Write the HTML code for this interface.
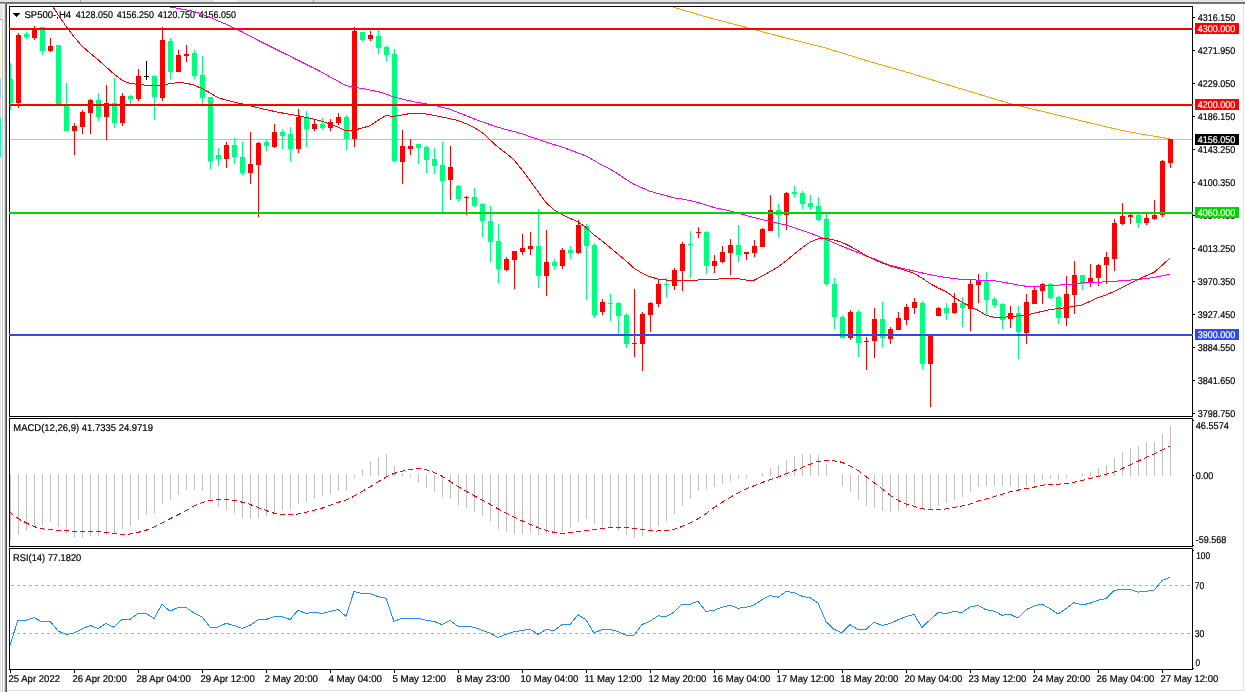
<!DOCTYPE html>
<html><head><meta charset="utf-8"><title>SP500-,H4</title>
<style>html,body{margin:0;padding:0;background:#fff;overflow:hidden}svg{display:block}</style>
</head><body>
<svg width="1245" height="692" viewBox="0 0 1245 692" shape-rendering="crispEdges"><rect x="0" y="0" width="1245" height="692" fill="#ffffff"/>
<rect x="0" y="0" width="1245" height="2" fill="#e3e3e3"/>
<rect x="0" y="2" width="1245" height="1" fill="#6f6f6f"/>
<rect x="0" y="3" width="1245" height="1" fill="#a9a9a9"/>
<rect x="80" y="0" width="1" height="2" fill="#a0a0a0"/>
<rect x="313" y="0" width="1" height="2" fill="#a0a0a0"/>
<rect x="214" y="0" width="23" height="2" fill="#f4f4f4"/>
<rect x="0" y="4" width="5" height="688" fill="#e6e6e6"/>
<rect x="0" y="19" width="2" height="1" fill="#a0a0a0"/>
<rect x="0" y="20" width="1" height="20" fill="#fbfbf2"/>
<rect x="0" y="40" width="1" height="38" fill="#f8f8cf"/>
<rect x="0" y="78" width="1" height="20" fill="#9ccaf5"/>
<rect x="0" y="98" width="1" height="20" fill="#dcdcdc"/>
<rect x="0" y="118" width="1" height="39" fill="#1ff0b8"/>
<rect x="1" y="20" width="1" height="672" fill="#fafafa"/>
<rect x="2" y="20" width="1" height="672" fill="#c8c8c8"/>
<rect x="3" y="4" width="1" height="688" fill="#fbfbfb"/>
<rect x="4" y="4" width="1" height="688" fill="#dadada"/>
<rect x="5" y="2" width="1" height="690" fill="#8a8a8a"/>
<rect x="6" y="3" width="1" height="689" fill="#4a4a4a"/>
<rect x="6" y="3" width="1239" height="1" fill="#7a7a7a"/>
<rect x="1243" y="4" width="1" height="687" fill="#e2e2e2"/>
<rect x="7" y="690" width="1237" height="1" fill="#e2e2e2"/>
<rect x="9.5" y="6.5" width="1183" height="410" fill="none" stroke="#000" stroke-width="1"/>
<rect x="9.5" y="418.5" width="1183" height="128" fill="none" stroke="#000" stroke-width="1"/>
<rect x="9.5" y="548.5" width="1183" height="121" fill="none" stroke="#000" stroke-width="1"/>
<g font-family="Liberation Sans, Arial, sans-serif" text-rendering="geometricPrecision">
<path d="M13,13 h7 l-3.5,4 z" fill="#000"/>
<text x="24.4" y="17.6" font-size="9.8" fill="#000" stroke="#000" stroke-width="0.2" textLength="46.8" lengthAdjust="spacingAndGlyphs">SP500-,H4</text>
<text x="75.7" y="17.6" font-size="9.8" fill="#000" stroke="#000" stroke-width="0.2" textLength="37.2" lengthAdjust="spacingAndGlyphs">4128.050</text>
<text x="116.7" y="17.6" font-size="9.8" fill="#000" stroke="#000" stroke-width="0.2" textLength="37.2" lengthAdjust="spacingAndGlyphs">4156.250</text>
<text x="157.7" y="17.6" font-size="9.8" fill="#000" stroke="#000" stroke-width="0.2" textLength="37.2" lengthAdjust="spacingAndGlyphs">4120.750</text>
<text x="198.7" y="17.6" font-size="9.8" fill="#000" stroke="#000" stroke-width="0.2" textLength="37.2" lengthAdjust="spacingAndGlyphs">4156.050</text>
</g>
<clipPath id="cm"><rect x="10" y="7" width="1182" height="409"/></clipPath>
<g clip-path="url(#cm)">
<rect x="10" y="139" width="1182" height="1" fill="#c0c0c0"/>
<rect x="10" y="63" width="1" height="47" fill="#00ff7f"/>
<rect x="8" y="79" width="5" height="24" fill="#00ff7f"/>
<rect x="18" y="33" width="1" height="75" fill="#ff0000"/>
<rect x="16" y="35" width="5" height="68" fill="#ff0000"/>
<rect x="26" y="32" width="1" height="7" fill="#00ff7f"/>
<rect x="24" y="34" width="5" height="3" fill="#00ff7f"/>
<rect x="34" y="26" width="1" height="14" fill="#ff0000"/>
<rect x="32" y="29" width="5" height="9" fill="#ff0000"/>
<rect x="42" y="27" width="1" height="28" fill="#00ff7f"/>
<rect x="40" y="27" width="5" height="24" fill="#00ff7f"/>
<rect x="50" y="38" width="1" height="14" fill="#ff0000"/>
<rect x="48" y="46" width="5" height="5" fill="#ff0000"/>
<rect x="58" y="45" width="1" height="60" fill="#00ff7f"/>
<rect x="56" y="45" width="5" height="59" fill="#00ff7f"/>
<rect x="66" y="83" width="1" height="48" fill="#00ff7f"/>
<rect x="64" y="106" width="5" height="25" fill="#00ff7f"/>
<rect x="74" y="123" width="1" height="32" fill="#ff0000"/>
<rect x="72" y="126" width="5" height="5" fill="#ff0000"/>
<rect x="82" y="110" width="1" height="24" fill="#ff0000"/>
<rect x="80" y="112" width="5" height="15" fill="#ff0000"/>
<rect x="90" y="99" width="1" height="35" fill="#ff0000"/>
<rect x="88" y="100" width="5" height="13" fill="#ff0000"/>
<rect x="98" y="93" width="1" height="28" fill="#00ff7f"/>
<rect x="96" y="100" width="5" height="17" fill="#00ff7f"/>
<rect x="106" y="85" width="1" height="55" fill="#ff0000"/>
<rect x="104" y="103" width="5" height="14" fill="#ff0000"/>
<rect x="114" y="78" width="1" height="50" fill="#00ff7f"/>
<rect x="112" y="103" width="5" height="20" fill="#00ff7f"/>
<rect x="122" y="93" width="1" height="33" fill="#ff0000"/>
<rect x="120" y="96" width="5" height="27" fill="#ff0000"/>
<rect x="130" y="95" width="1" height="10" fill="#00ff7f"/>
<rect x="128" y="96" width="5" height="3" fill="#00ff7f"/>
<rect x="138" y="69" width="1" height="32" fill="#ff0000"/>
<rect x="136" y="76" width="5" height="23" fill="#ff0000"/>
<rect x="146" y="61" width="1" height="19" fill="#000"/>
<rect x="144" y="76" width="5" height="1" fill="#000"/>
<rect x="154" y="75" width="1" height="45" fill="#00ff7f"/>
<rect x="152" y="76" width="5" height="21" fill="#00ff7f"/>
<rect x="162" y="27" width="1" height="74" fill="#ff0000"/>
<rect x="160" y="40" width="5" height="58" fill="#ff0000"/>
<rect x="170" y="38" width="1" height="41" fill="#00ff7f"/>
<rect x="168" y="41" width="5" height="31" fill="#00ff7f"/>
<rect x="178" y="50" width="1" height="22" fill="#ff0000"/>
<rect x="176" y="55" width="5" height="17" fill="#ff0000"/>
<rect x="186" y="45" width="1" height="17" fill="#ff0000"/>
<rect x="184" y="54" width="5" height="2" fill="#ff0000"/>
<rect x="194" y="50" width="1" height="29" fill="#00ff7f"/>
<rect x="192" y="53" width="5" height="23" fill="#00ff7f"/>
<rect x="202" y="56" width="1" height="49" fill="#00ff7f"/>
<rect x="200" y="75" width="5" height="23" fill="#00ff7f"/>
<rect x="210" y="97" width="1" height="72" fill="#00ff7f"/>
<rect x="208" y="97" width="5" height="64" fill="#00ff7f"/>
<rect x="218" y="148" width="1" height="18" fill="#00ff7f"/>
<rect x="216" y="155" width="5" height="4" fill="#00ff7f"/>
<rect x="226" y="142" width="1" height="26" fill="#ff0000"/>
<rect x="224" y="145" width="5" height="14" fill="#ff0000"/>
<rect x="234" y="138" width="1" height="26" fill="#00ff7f"/>
<rect x="232" y="145" width="5" height="12" fill="#00ff7f"/>
<rect x="242" y="142" width="1" height="33" fill="#00ff7f"/>
<rect x="240" y="157" width="5" height="16" fill="#00ff7f"/>
<rect x="250" y="132" width="1" height="52" fill="#ff0000"/>
<rect x="248" y="164" width="5" height="9" fill="#ff0000"/>
<rect x="258" y="142" width="1" height="75" fill="#ff0000"/>
<rect x="256" y="143" width="5" height="22" fill="#ff0000"/>
<rect x="266" y="139" width="1" height="12" fill="#00ff7f"/>
<rect x="264" y="142" width="5" height="4" fill="#00ff7f"/>
<rect x="274" y="124" width="1" height="24" fill="#ff0000"/>
<rect x="272" y="132" width="5" height="15" fill="#ff0000"/>
<rect x="282" y="129" width="1" height="20" fill="#00ff7f"/>
<rect x="280" y="132" width="5" height="4" fill="#00ff7f"/>
<rect x="290" y="127" width="1" height="34" fill="#00ff7f"/>
<rect x="288" y="134" width="5" height="15" fill="#00ff7f"/>
<rect x="298" y="109" width="1" height="44" fill="#ff0000"/>
<rect x="296" y="117" width="5" height="32" fill="#ff0000"/>
<rect x="306" y="111" width="1" height="36" fill="#00ff7f"/>
<rect x="304" y="118" width="5" height="11" fill="#00ff7f"/>
<rect x="314" y="119" width="1" height="12" fill="#ff0000"/>
<rect x="312" y="124" width="5" height="5" fill="#ff0000"/>
<rect x="322" y="118" width="1" height="12" fill="#00ff7f"/>
<rect x="320" y="124" width="5" height="4" fill="#00ff7f"/>
<rect x="330" y="119" width="1" height="12" fill="#ff0000"/>
<rect x="328" y="122" width="5" height="6" fill="#ff0000"/>
<rect x="338" y="113" width="1" height="12" fill="#ff0000"/>
<rect x="336" y="117" width="5" height="6" fill="#ff0000"/>
<rect x="346" y="115" width="1" height="35" fill="#00ff7f"/>
<rect x="344" y="117" width="5" height="22" fill="#00ff7f"/>
<rect x="354" y="27" width="1" height="120" fill="#ff0000"/>
<rect x="352" y="31" width="5" height="108" fill="#ff0000"/>
<rect x="362" y="32" width="1" height="10" fill="#00ff7f"/>
<rect x="360" y="32" width="5" height="8" fill="#00ff7f"/>
<rect x="370" y="31" width="1" height="10" fill="#ff0000"/>
<rect x="368" y="35" width="5" height="4" fill="#ff0000"/>
<rect x="378" y="30" width="1" height="24" fill="#00ff7f"/>
<rect x="376" y="36" width="5" height="12" fill="#00ff7f"/>
<rect x="386" y="46" width="1" height="15" fill="#00ff7f"/>
<rect x="384" y="47" width="5" height="8" fill="#00ff7f"/>
<rect x="394" y="49" width="1" height="113" fill="#00ff7f"/>
<rect x="392" y="54" width="5" height="107" fill="#00ff7f"/>
<rect x="402" y="130" width="1" height="54" fill="#ff0000"/>
<rect x="400" y="146" width="5" height="16" fill="#ff0000"/>
<rect x="410" y="139" width="1" height="16" fill="#ff0000"/>
<rect x="408" y="146" width="5" height="3" fill="#ff0000"/>
<rect x="418" y="144" width="1" height="20" fill="#00ff7f"/>
<rect x="416" y="144" width="5" height="4" fill="#00ff7f"/>
<rect x="426" y="146" width="1" height="27" fill="#00ff7f"/>
<rect x="424" y="147" width="5" height="13" fill="#00ff7f"/>
<rect x="434" y="148" width="1" height="26" fill="#00ff7f"/>
<rect x="432" y="159" width="5" height="7" fill="#00ff7f"/>
<rect x="442" y="142" width="1" height="71" fill="#00ff7f"/>
<rect x="440" y="165" width="5" height="16" fill="#00ff7f"/>
<rect x="450" y="146" width="1" height="54" fill="#ff0000"/>
<rect x="448" y="167" width="5" height="13" fill="#ff0000"/>
<rect x="458" y="185" width="1" height="17" fill="#00ff7f"/>
<rect x="456" y="186" width="5" height="13" fill="#00ff7f"/>
<rect x="466" y="196" width="1" height="19" fill="#ff0000"/>
<rect x="464" y="197" width="5" height="1" fill="#ff0000"/>
<rect x="474" y="188" width="1" height="19" fill="#00ff7f"/>
<rect x="472" y="197" width="5" height="9" fill="#00ff7f"/>
<rect x="482" y="203" width="1" height="34" fill="#00ff7f"/>
<rect x="480" y="204" width="5" height="17" fill="#00ff7f"/>
<rect x="490" y="206" width="1" height="56" fill="#00ff7f"/>
<rect x="488" y="221" width="5" height="21" fill="#00ff7f"/>
<rect x="498" y="224" width="1" height="59" fill="#00ff7f"/>
<rect x="496" y="241" width="5" height="28" fill="#00ff7f"/>
<rect x="506" y="257" width="1" height="14" fill="#ff0000"/>
<rect x="504" y="259" width="5" height="11" fill="#ff0000"/>
<rect x="514" y="251" width="1" height="38" fill="#ff0000"/>
<rect x="512" y="251" width="5" height="9" fill="#ff0000"/>
<rect x="522" y="234" width="1" height="21" fill="#ff0000"/>
<rect x="520" y="248" width="5" height="4" fill="#ff0000"/>
<rect x="530" y="232" width="1" height="23" fill="#ff0000"/>
<rect x="528" y="246" width="5" height="3" fill="#ff0000"/>
<rect x="538" y="209" width="1" height="79" fill="#00ff7f"/>
<rect x="536" y="246" width="5" height="30" fill="#00ff7f"/>
<rect x="546" y="230" width="1" height="66" fill="#ff0000"/>
<rect x="544" y="262" width="5" height="14" fill="#ff0000"/>
<rect x="554" y="259" width="1" height="11" fill="#00ff7f"/>
<rect x="552" y="262" width="5" height="4" fill="#00ff7f"/>
<rect x="562" y="248" width="1" height="21" fill="#ff0000"/>
<rect x="560" y="250" width="5" height="16" fill="#ff0000"/>
<rect x="570" y="246" width="1" height="13" fill="#00ff7f"/>
<rect x="568" y="250" width="5" height="3" fill="#00ff7f"/>
<rect x="578" y="220" width="1" height="34" fill="#ff0000"/>
<rect x="576" y="225" width="5" height="28" fill="#ff0000"/>
<rect x="586" y="224" width="1" height="76" fill="#00ff7f"/>
<rect x="584" y="226" width="5" height="20" fill="#00ff7f"/>
<rect x="594" y="243" width="1" height="75" fill="#00ff7f"/>
<rect x="592" y="245" width="5" height="70" fill="#00ff7f"/>
<rect x="602" y="299" width="1" height="16" fill="#ff0000"/>
<rect x="600" y="302" width="5" height="10" fill="#ff0000"/>
<rect x="610" y="294" width="1" height="27" fill="#00ff7f"/>
<rect x="608" y="303" width="5" height="1" fill="#00ff7f"/>
<rect x="618" y="302" width="1" height="33" fill="#00ff7f"/>
<rect x="616" y="303" width="5" height="13" fill="#00ff7f"/>
<rect x="626" y="313" width="1" height="35" fill="#00ff7f"/>
<rect x="624" y="315" width="5" height="29" fill="#00ff7f"/>
<rect x="634" y="289" width="1" height="68" fill="#ff0000"/>
<rect x="632" y="343" width="5" height="1" fill="#ff0000"/>
<rect x="642" y="312" width="1" height="59" fill="#ff0000"/>
<rect x="640" y="314" width="5" height="30" fill="#ff0000"/>
<rect x="650" y="302" width="1" height="30" fill="#ff0000"/>
<rect x="648" y="303" width="5" height="12" fill="#ff0000"/>
<rect x="658" y="280" width="1" height="27" fill="#ff0000"/>
<rect x="656" y="284" width="5" height="20" fill="#ff0000"/>
<rect x="666" y="278" width="1" height="19" fill="#00ff7f"/>
<rect x="664" y="284" width="5" height="1" fill="#00ff7f"/>
<rect x="674" y="268" width="1" height="22" fill="#ff0000"/>
<rect x="672" y="270" width="5" height="16" fill="#ff0000"/>
<rect x="682" y="242" width="1" height="49" fill="#ff0000"/>
<rect x="680" y="244" width="5" height="27" fill="#ff0000"/>
<rect x="690" y="231" width="1" height="47" fill="#00ff7f"/>
<rect x="688" y="244" width="5" height="1" fill="#00ff7f"/>
<rect x="698" y="227" width="1" height="11" fill="#ff0000"/>
<rect x="696" y="232" width="5" height="1" fill="#ff0000"/>
<rect x="706" y="231" width="1" height="43" fill="#00ff7f"/>
<rect x="704" y="232" width="5" height="34" fill="#00ff7f"/>
<rect x="714" y="255" width="1" height="18" fill="#ff0000"/>
<rect x="712" y="261" width="5" height="5" fill="#ff0000"/>
<rect x="722" y="246" width="1" height="17" fill="#ff0000"/>
<rect x="720" y="252" width="5" height="10" fill="#ff0000"/>
<rect x="730" y="239" width="1" height="36" fill="#ff0000"/>
<rect x="728" y="245" width="5" height="8" fill="#ff0000"/>
<rect x="738" y="225" width="1" height="37" fill="#00ff7f"/>
<rect x="736" y="245" width="5" height="10" fill="#00ff7f"/>
<rect x="746" y="252" width="1" height="8" fill="#ff0000"/>
<rect x="744" y="252" width="5" height="2" fill="#ff0000"/>
<rect x="754" y="240" width="1" height="17" fill="#ff0000"/>
<rect x="752" y="246" width="5" height="7" fill="#ff0000"/>
<rect x="762" y="228" width="1" height="19" fill="#ff0000"/>
<rect x="760" y="229" width="5" height="18" fill="#ff0000"/>
<rect x="770" y="195" width="1" height="36" fill="#ff0000"/>
<rect x="768" y="210" width="5" height="21" fill="#ff0000"/>
<rect x="778" y="204" width="1" height="33" fill="#00ff7f"/>
<rect x="776" y="210" width="5" height="5" fill="#00ff7f"/>
<rect x="786" y="192" width="1" height="38" fill="#ff0000"/>
<rect x="784" y="193" width="5" height="22" fill="#ff0000"/>
<rect x="794" y="186" width="1" height="11" fill="#00ff7f"/>
<rect x="792" y="192" width="5" height="2" fill="#00ff7f"/>
<rect x="802" y="191" width="1" height="18" fill="#00ff7f"/>
<rect x="800" y="193" width="5" height="11" fill="#00ff7f"/>
<rect x="810" y="195" width="1" height="15" fill="#00ff7f"/>
<rect x="808" y="203" width="5" height="4" fill="#00ff7f"/>
<rect x="818" y="197" width="1" height="24" fill="#00ff7f"/>
<rect x="816" y="206" width="5" height="14" fill="#00ff7f"/>
<rect x="826" y="214" width="1" height="72" fill="#00ff7f"/>
<rect x="824" y="219" width="5" height="65" fill="#00ff7f"/>
<rect x="834" y="278" width="1" height="51" fill="#00ff7f"/>
<rect x="832" y="284" width="5" height="33" fill="#00ff7f"/>
<rect x="842" y="315" width="1" height="23" fill="#00ff7f"/>
<rect x="840" y="317" width="5" height="21" fill="#00ff7f"/>
<rect x="850" y="310" width="1" height="30" fill="#ff0000"/>
<rect x="848" y="312" width="5" height="26" fill="#ff0000"/>
<rect x="858" y="310" width="1" height="47" fill="#00ff7f"/>
<rect x="856" y="312" width="5" height="31" fill="#00ff7f"/>
<rect x="866" y="337" width="1" height="33" fill="#ff0000"/>
<rect x="864" y="341" width="5" height="1" fill="#ff0000"/>
<rect x="874" y="308" width="1" height="50" fill="#ff0000"/>
<rect x="872" y="319" width="5" height="22" fill="#ff0000"/>
<rect x="882" y="302" width="1" height="45" fill="#00ff7f"/>
<rect x="880" y="319" width="5" height="19" fill="#00ff7f"/>
<rect x="890" y="327" width="1" height="17" fill="#ff0000"/>
<rect x="888" y="329" width="5" height="10" fill="#ff0000"/>
<rect x="898" y="312" width="1" height="18" fill="#ff0000"/>
<rect x="896" y="318" width="5" height="12" fill="#ff0000"/>
<rect x="906" y="304" width="1" height="21" fill="#ff0000"/>
<rect x="904" y="307" width="5" height="13" fill="#ff0000"/>
<rect x="914" y="298" width="1" height="16" fill="#ff0000"/>
<rect x="912" y="302" width="5" height="6" fill="#ff0000"/>
<rect x="922" y="301" width="1" height="68" fill="#00ff7f"/>
<rect x="920" y="303" width="5" height="61" fill="#00ff7f"/>
<rect x="930" y="336" width="1" height="71" fill="#ff0000"/>
<rect x="928" y="336" width="5" height="28" fill="#ff0000"/>
<rect x="938" y="307" width="1" height="9" fill="#ff0000"/>
<rect x="936" y="308" width="5" height="8" fill="#ff0000"/>
<rect x="946" y="303" width="1" height="17" fill="#00ff7f"/>
<rect x="944" y="308" width="5" height="5" fill="#00ff7f"/>
<rect x="954" y="293" width="1" height="21" fill="#ff0000"/>
<rect x="952" y="303" width="5" height="10" fill="#ff0000"/>
<rect x="962" y="297" width="1" height="30" fill="#00ff7f"/>
<rect x="960" y="303" width="5" height="5" fill="#00ff7f"/>
<rect x="970" y="280" width="1" height="51" fill="#ff0000"/>
<rect x="968" y="284" width="5" height="25" fill="#ff0000"/>
<rect x="978" y="274" width="1" height="29" fill="#ff0000"/>
<rect x="976" y="281" width="5" height="4" fill="#ff0000"/>
<rect x="986" y="272" width="1" height="42" fill="#00ff7f"/>
<rect x="984" y="281" width="5" height="19" fill="#00ff7f"/>
<rect x="994" y="297" width="1" height="11" fill="#00ff7f"/>
<rect x="992" y="299" width="5" height="6" fill="#00ff7f"/>
<rect x="1002" y="303" width="1" height="26" fill="#00ff7f"/>
<rect x="1000" y="304" width="5" height="16" fill="#00ff7f"/>
<rect x="1010" y="306" width="1" height="22" fill="#ff0000"/>
<rect x="1008" y="313" width="5" height="6" fill="#ff0000"/>
<rect x="1018" y="306" width="1" height="53" fill="#00ff7f"/>
<rect x="1016" y="313" width="5" height="19" fill="#00ff7f"/>
<rect x="1026" y="294" width="1" height="50" fill="#ff0000"/>
<rect x="1024" y="302" width="5" height="31" fill="#ff0000"/>
<rect x="1034" y="287" width="1" height="17" fill="#ff0000"/>
<rect x="1032" y="290" width="5" height="14" fill="#ff0000"/>
<rect x="1042" y="283" width="1" height="21" fill="#ff0000"/>
<rect x="1040" y="284" width="5" height="7" fill="#ff0000"/>
<rect x="1050" y="283" width="1" height="16" fill="#00ff7f"/>
<rect x="1048" y="284" width="5" height="14" fill="#00ff7f"/>
<rect x="1058" y="296" width="1" height="28" fill="#00ff7f"/>
<rect x="1056" y="297" width="5" height="21" fill="#00ff7f"/>
<rect x="1066" y="276" width="1" height="50" fill="#ff0000"/>
<rect x="1064" y="294" width="5" height="24" fill="#ff0000"/>
<rect x="1074" y="261" width="1" height="53" fill="#ff0000"/>
<rect x="1072" y="275" width="5" height="20" fill="#ff0000"/>
<rect x="1082" y="275" width="1" height="15" fill="#00ff7f"/>
<rect x="1080" y="275" width="5" height="9" fill="#00ff7f"/>
<rect x="1090" y="264" width="1" height="23" fill="#ff0000"/>
<rect x="1088" y="278" width="5" height="4" fill="#ff0000"/>
<rect x="1098" y="264" width="1" height="22" fill="#ff0000"/>
<rect x="1096" y="265" width="5" height="13" fill="#ff0000"/>
<rect x="1106" y="252" width="1" height="32" fill="#ff0000"/>
<rect x="1104" y="257" width="5" height="8" fill="#ff0000"/>
<rect x="1114" y="219" width="1" height="52" fill="#ff0000"/>
<rect x="1112" y="223" width="5" height="36" fill="#ff0000"/>
<rect x="1122" y="203" width="1" height="22" fill="#ff0000"/>
<rect x="1120" y="216" width="5" height="8" fill="#ff0000"/>
<rect x="1130" y="214" width="1" height="10" fill="#ff0000"/>
<rect x="1128" y="215" width="5" height="2" fill="#ff0000"/>
<rect x="1138" y="214" width="1" height="14" fill="#00ff7f"/>
<rect x="1136" y="215" width="5" height="8" fill="#00ff7f"/>
<rect x="1146" y="214" width="1" height="11" fill="#ff0000"/>
<rect x="1144" y="218" width="5" height="5" fill="#ff0000"/>
<rect x="1154" y="200" width="1" height="20" fill="#ff0000"/>
<rect x="1152" y="215" width="5" height="4" fill="#ff0000"/>
<rect x="1162" y="160" width="1" height="57" fill="#ff0000"/>
<rect x="1160" y="161" width="5" height="54" fill="#ff0000"/>
<rect x="1170" y="139" width="1" height="29" fill="#ff0000"/>
<rect x="1168" y="139" width="5" height="24" fill="#ff0000"/>
<polyline points="660.0,3.03 666.0,4.86 674.0,7.29 682.0,9.68 690.0,12.08 698.0,14.47 706.0,16.81 714.0,18.93 722.0,21.05 730.0,23.17 738.0,25.29 746.0,27.41 754.0,29.52 762.0,31.64 770.0,33.76 778.0,35.87 786.0,37.91 794.0,39.92 802.0,41.93 810.0,43.94 818.0,45.95 826.0,48.10 834.0,50.57 842.0,53.04 850.0,55.51 858.0,57.98 866.0,60.45 874.0,62.76 882.0,65.04 890.0,67.32 898.0,69.61 906.0,71.89 914.0,74.27 922.0,76.76 930.0,79.25 938.0,81.74 946.0,84.23 954.0,86.72 962.0,89.13 970.0,91.54 978.0,93.95 986.0,96.35 994.0,98.76 1002.0,101.16 1010.0,103.57 1018.0,105.56 1026.0,107.49 1034.0,109.41 1042.0,111.33 1050.0,113.25 1058.0,115.17 1066.0,117.09 1074.0,119.01 1082.0,120.93 1090.0,122.85 1098.0,124.77 1106.0,126.69 1114.0,128.60 1122.0,130.52 1130.0,132.02 1138.0,133.41 1146.0,134.79 1154.0,136.17 1162.0,137.56 1170.0,138.94" fill="none" stroke="#ffa500" stroke-width="1"/>
<polyline points="160.0,4.03 162.0,4.69 170.0,7.11 178.0,8.39 186.0,9.83 194.0,11.51 202.0,14.10 210.0,17.15 218.0,20.88 226.0,24.13 234.0,27.88 242.0,31.74 250.0,36.01 258.0,40.23 266.0,44.23 274.0,48.23 282.0,52.20 290.0,56.18 298.0,60.21 306.0,64.22 314.0,68.19 322.0,72.32 330.0,76.86 338.0,81.09 346.0,85.75 354.0,87.08 362.0,88.51 370.0,90.03 378.0,91.56 386.0,94.01 394.0,97.03 402.0,99.00 410.0,100.86 418.0,102.61 426.0,103.75 434.0,105.20 442.0,107.15 450.0,109.27 458.0,112.45 466.0,115.63 474.0,118.82 482.0,121.77 490.0,124.50 498.0,127.24 506.0,129.54 514.0,131.59 522.0,133.72 530.0,136.57 538.0,139.42 546.0,142.06 554.0,144.56 562.0,147.05 570.0,149.90 578.0,152.91 586.0,155.93 594.0,160.45 602.0,165.13 610.0,169.13 618.0,173.99 626.0,179.31 634.0,184.29 642.0,187.80 650.0,191.28 658.0,193.45 666.0,195.62 674.0,197.79 682.0,199.04 690.0,200.47 698.0,202.55 706.0,204.90 714.0,207.52 722.0,209.26 730.0,210.94 738.0,213.01 746.0,215.37 754.0,217.56 762.0,219.55 770.0,221.46 778.0,223.25 786.0,225.02 794.0,227.63 802.0,230.31 810.0,233.07 818.0,236.02 826.0,239.41 834.0,242.93 842.0,246.21 850.0,249.43 858.0,252.57 866.0,255.71 874.0,258.84 882.0,262.06 890.0,265.29 898.0,267.34 906.0,269.20 914.0,271.06 922.0,272.90 930.0,274.72 938.0,276.13 946.0,277.47 954.0,278.52 962.0,279.39 970.0,279.88 978.0,280.04 986.0,280.15 994.0,280.70 1002.0,282.02 1010.0,283.45 1018.0,285.03 1026.0,286.23 1034.0,286.23 1042.0,285.96 1050.0,285.48 1058.0,285.10 1066.0,284.78 1074.0,283.90 1082.0,282.93 1090.0,282.58 1098.0,282.23 1106.0,281.80 1114.0,281.32 1122.0,280.76 1130.0,280.07 1138.0,279.37 1146.0,278.55 1154.0,277.53 1162.0,275.83 1170.0,274.14" fill="none" stroke="#ff00ff" stroke-width="1"/>
<polyline points="45.0,-5.97 50.0,2.09 58.0,14.80 66.0,26.13 74.0,36.78 82.0,46.04 90.0,53.11 98.0,59.54 106.0,66.92 114.0,74.09 122.0,80.24 130.0,83.56 138.0,84.25 146.0,85.23 154.0,85.80 162.0,84.84 170.0,83.71 178.0,82.56 186.0,83.16 194.0,85.09 202.0,88.54 210.0,92.83 218.0,97.64 226.0,100.08 234.0,102.01 242.0,103.83 250.0,105.83 258.0,107.79 266.0,109.69 274.0,111.31 282.0,112.93 290.0,114.31 298.0,115.69 306.0,117.33 314.0,119.18 322.0,121.34 330.0,124.03 338.0,127.12 346.0,131.03 354.0,130.16 362.0,128.13 370.0,125.63 378.0,120.37 386.0,115.59 394.0,116.35 402.0,114.94 410.0,113.57 418.0,113.17 426.0,114.06 434.0,115.40 442.0,117.03 450.0,118.72 458.0,120.49 466.0,123.71 474.0,127.39 482.0,132.42 490.0,139.83 498.0,147.10 506.0,153.07 514.0,159.82 522.0,169.91 530.0,180.65 538.0,191.62 546.0,202.59 554.0,209.92 562.0,214.53 570.0,218.37 578.0,221.87 586.0,227.40 594.0,234.77 602.0,240.90 610.0,247.47 618.0,254.10 626.0,260.80 634.0,268.25 642.0,272.97 650.0,276.77 658.0,278.96 666.0,280.06 674.0,280.33 682.0,280.14 690.0,280.03 698.0,280.03 706.0,279.76 714.0,279.26 722.0,278.87 730.0,278.71 738.0,278.54 746.0,280.07 754.0,280.32 762.0,276.07 770.0,271.58 778.0,266.97 786.0,260.88 794.0,254.17 802.0,247.83 810.0,242.07 818.0,238.92 826.0,238.48 834.0,239.92 842.0,242.35 850.0,246.20 858.0,250.63 866.0,255.72 874.0,259.48 882.0,262.87 890.0,265.91 898.0,268.17 906.0,270.56 914.0,273.23 922.0,278.01 930.0,283.61 938.0,287.85 946.0,291.63 954.0,297.25 962.0,302.05 970.0,306.41 978.0,310.27 986.0,315.14 994.0,317.40 1002.0,317.28 1010.0,316.67 1018.0,315.87 1026.0,315.07 1034.0,313.37 1042.0,311.40 1050.0,309.67 1058.0,308.66 1066.0,307.58 1074.0,306.38 1082.0,304.98 1090.0,301.38 1098.0,297.53 1106.0,294.97 1114.0,291.46 1122.0,287.47 1130.0,283.43 1138.0,279.43 1146.0,275.78 1154.0,272.33 1162.0,265.38 1170.0,257.99" fill="none" stroke="#ff0000" stroke-width="1"/>
</g>
<rect x="9" y="28" width="1184" height="2" fill="#ff0000"/>
<rect x="9" y="104" width="1184" height="2" fill="#ff0000"/>
<rect x="9" y="212" width="1184" height="2" fill="#00d700"/>
<rect x="9" y="334" width="1184" height="2" fill="#2d4be6"/>
<clipPath id="cmacd"><rect x="10" y="419" width="1182" height="127"/></clipPath>
<g clip-path="url(#cmacd)">
<rect x="10" y="475" width="1" height="65" fill="#c0c0c0"/>
<rect x="18" y="475" width="1" height="60" fill="#c0c0c0"/>
<rect x="26" y="475" width="1" height="56" fill="#c0c0c0"/>
<rect x="34" y="475" width="1" height="51" fill="#c0c0c0"/>
<rect x="42" y="475" width="1" height="50" fill="#c0c0c0"/>
<rect x="50" y="475" width="1" height="47" fill="#c0c0c0"/>
<rect x="58" y="475" width="1" height="52" fill="#c0c0c0"/>
<rect x="66" y="475" width="1" height="59" fill="#c0c0c0"/>
<rect x="74" y="475" width="1" height="62" fill="#c0c0c0"/>
<rect x="82" y="475" width="1" height="63" fill="#c0c0c0"/>
<rect x="90" y="475" width="1" height="61" fill="#c0c0c0"/>
<rect x="98" y="475" width="1" height="61" fill="#c0c0c0"/>
<rect x="106" y="475" width="1" height="59" fill="#c0c0c0"/>
<rect x="114" y="475" width="1" height="59" fill="#c0c0c0"/>
<rect x="122" y="475" width="1" height="54" fill="#c0c0c0"/>
<rect x="130" y="475" width="1" height="51" fill="#c0c0c0"/>
<rect x="138" y="475" width="1" height="45" fill="#c0c0c0"/>
<rect x="146" y="475" width="1" height="40" fill="#c0c0c0"/>
<rect x="154" y="475" width="1" height="38" fill="#c0c0c0"/>
<rect x="162" y="475" width="1" height="29" fill="#c0c0c0"/>
<rect x="170" y="475" width="1" height="25" fill="#c0c0c0"/>
<rect x="178" y="475" width="1" height="20" fill="#c0c0c0"/>
<rect x="186" y="475" width="1" height="15" fill="#c0c0c0"/>
<rect x="194" y="475" width="1" height="15" fill="#c0c0c0"/>
<rect x="202" y="475" width="1" height="16" fill="#c0c0c0"/>
<rect x="210" y="475" width="1" height="24" fill="#c0c0c0"/>
<rect x="218" y="475" width="1" height="32" fill="#c0c0c0"/>
<rect x="226" y="475" width="1" height="35" fill="#c0c0c0"/>
<rect x="234" y="475" width="1" height="38" fill="#c0c0c0"/>
<rect x="242" y="475" width="1" height="43" fill="#c0c0c0"/>
<rect x="250" y="475" width="1" height="44" fill="#c0c0c0"/>
<rect x="258" y="475" width="1" height="43" fill="#c0c0c0"/>
<rect x="266" y="475" width="1" height="41" fill="#c0c0c0"/>
<rect x="274" y="475" width="1" height="38" fill="#c0c0c0"/>
<rect x="282" y="475" width="1" height="35" fill="#c0c0c0"/>
<rect x="290" y="475" width="1" height="34" fill="#c0c0c0"/>
<rect x="298" y="475" width="1" height="29" fill="#c0c0c0"/>
<rect x="306" y="475" width="1" height="27" fill="#c0c0c0"/>
<rect x="314" y="475" width="1" height="24" fill="#c0c0c0"/>
<rect x="322" y="475" width="1" height="21" fill="#c0c0c0"/>
<rect x="330" y="475" width="1" height="19" fill="#c0c0c0"/>
<rect x="338" y="475" width="1" height="16" fill="#c0c0c0"/>
<rect x="346" y="475" width="1" height="16" fill="#c0c0c0"/>
<rect x="354" y="475" width="1" height="3" fill="#c0c0c0"/>
<rect x="362" y="469" width="1" height="7" fill="#c0c0c0"/>
<rect x="370" y="461" width="1" height="15" fill="#c0c0c0"/>
<rect x="378" y="457" width="1" height="19" fill="#c0c0c0"/>
<rect x="386" y="454" width="1" height="22" fill="#c0c0c0"/>
<rect x="394" y="466" width="1" height="10" fill="#c0c0c0"/>
<rect x="402" y="473" width="1" height="3" fill="#c0c0c0"/>
<rect x="410" y="475" width="1" height="3" fill="#c0c0c0"/>
<rect x="418" y="475" width="1" height="8" fill="#c0c0c0"/>
<rect x="426" y="475" width="1" height="13" fill="#c0c0c0"/>
<rect x="434" y="475" width="1" height="17" fill="#c0c0c0"/>
<rect x="442" y="475" width="1" height="22" fill="#c0c0c0"/>
<rect x="450" y="475" width="1" height="24" fill="#c0c0c0"/>
<rect x="458" y="475" width="1" height="30" fill="#c0c0c0"/>
<rect x="466" y="475" width="1" height="33" fill="#c0c0c0"/>
<rect x="474" y="475" width="1" height="37" fill="#c0c0c0"/>
<rect x="482" y="475" width="1" height="41" fill="#c0c0c0"/>
<rect x="490" y="475" width="1" height="46" fill="#c0c0c0"/>
<rect x="498" y="475" width="1" height="54" fill="#c0c0c0"/>
<rect x="506" y="475" width="1" height="57" fill="#c0c0c0"/>
<rect x="514" y="475" width="1" height="59" fill="#c0c0c0"/>
<rect x="522" y="475" width="1" height="59" fill="#c0c0c0"/>
<rect x="530" y="475" width="1" height="58" fill="#c0c0c0"/>
<rect x="538" y="475" width="1" height="60" fill="#c0c0c0"/>
<rect x="546" y="475" width="1" height="59" fill="#c0c0c0"/>
<rect x="554" y="475" width="1" height="58" fill="#c0c0c0"/>
<rect x="562" y="475" width="1" height="56" fill="#c0c0c0"/>
<rect x="570" y="475" width="1" height="53" fill="#c0c0c0"/>
<rect x="578" y="475" width="1" height="47" fill="#c0c0c0"/>
<rect x="586" y="475" width="1" height="44" fill="#c0c0c0"/>
<rect x="594" y="475" width="1" height="49" fill="#c0c0c0"/>
<rect x="602" y="475" width="1" height="52" fill="#c0c0c0"/>
<rect x="610" y="475" width="1" height="53" fill="#c0c0c0"/>
<rect x="618" y="475" width="1" height="56" fill="#c0c0c0"/>
<rect x="626" y="475" width="1" height="60" fill="#c0c0c0"/>
<rect x="634" y="475" width="1" height="63" fill="#c0c0c0"/>
<rect x="642" y="475" width="1" height="61" fill="#c0c0c0"/>
<rect x="650" y="475" width="1" height="56" fill="#c0c0c0"/>
<rect x="658" y="475" width="1" height="51" fill="#c0c0c0"/>
<rect x="666" y="475" width="1" height="46" fill="#c0c0c0"/>
<rect x="674" y="475" width="1" height="39" fill="#c0c0c0"/>
<rect x="682" y="475" width="1" height="31" fill="#c0c0c0"/>
<rect x="690" y="475" width="1" height="24" fill="#c0c0c0"/>
<rect x="698" y="475" width="1" height="16" fill="#c0c0c0"/>
<rect x="706" y="475" width="1" height="14" fill="#c0c0c0"/>
<rect x="714" y="475" width="1" height="12" fill="#c0c0c0"/>
<rect x="722" y="475" width="1" height="9" fill="#c0c0c0"/>
<rect x="730" y="475" width="1" height="6" fill="#c0c0c0"/>
<rect x="738" y="475" width="1" height="4" fill="#c0c0c0"/>
<rect x="746" y="475" width="1" height="3" fill="#c0c0c0"/>
<rect x="762" y="473" width="1" height="3" fill="#c0c0c0"/>
<rect x="770" y="468" width="1" height="8" fill="#c0c0c0"/>
<rect x="778" y="465" width="1" height="11" fill="#c0c0c0"/>
<rect x="786" y="460" width="1" height="16" fill="#c0c0c0"/>
<rect x="794" y="456" width="1" height="20" fill="#c0c0c0"/>
<rect x="802" y="454" width="1" height="22" fill="#c0c0c0"/>
<rect x="810" y="454" width="1" height="22" fill="#c0c0c0"/>
<rect x="818" y="455" width="1" height="21" fill="#c0c0c0"/>
<rect x="826" y="464" width="1" height="12" fill="#c0c0c0"/>
<rect x="842" y="475" width="1" height="11" fill="#c0c0c0"/>
<rect x="850" y="475" width="1" height="17" fill="#c0c0c0"/>
<rect x="858" y="475" width="1" height="25" fill="#c0c0c0"/>
<rect x="866" y="475" width="1" height="31" fill="#c0c0c0"/>
<rect x="874" y="475" width="1" height="33" fill="#c0c0c0"/>
<rect x="882" y="475" width="1" height="36" fill="#c0c0c0"/>
<rect x="890" y="475" width="1" height="37" fill="#c0c0c0"/>
<rect x="898" y="475" width="1" height="36" fill="#c0c0c0"/>
<rect x="906" y="475" width="1" height="33" fill="#c0c0c0"/>
<rect x="914" y="475" width="1" height="30" fill="#c0c0c0"/>
<rect x="922" y="475" width="1" height="33" fill="#c0c0c0"/>
<rect x="930" y="475" width="1" height="34" fill="#c0c0c0"/>
<rect x="938" y="475" width="1" height="31" fill="#c0c0c0"/>
<rect x="946" y="475" width="1" height="28" fill="#c0c0c0"/>
<rect x="954" y="475" width="1" height="25" fill="#c0c0c0"/>
<rect x="962" y="475" width="1" height="22" fill="#c0c0c0"/>
<rect x="970" y="475" width="1" height="17" fill="#c0c0c0"/>
<rect x="978" y="475" width="1" height="12" fill="#c0c0c0"/>
<rect x="986" y="475" width="1" height="11" fill="#c0c0c0"/>
<rect x="994" y="475" width="1" height="10" fill="#c0c0c0"/>
<rect x="1002" y="475" width="1" height="11" fill="#c0c0c0"/>
<rect x="1010" y="475" width="1" height="11" fill="#c0c0c0"/>
<rect x="1018" y="475" width="1" height="13" fill="#c0c0c0"/>
<rect x="1026" y="475" width="1" height="11" fill="#c0c0c0"/>
<rect x="1034" y="475" width="1" height="8" fill="#c0c0c0"/>
<rect x="1042" y="475" width="1" height="5" fill="#c0c0c0"/>
<rect x="1050" y="475" width="1" height="4" fill="#c0c0c0"/>
<rect x="1058" y="475" width="1" height="5" fill="#c0c0c0"/>
<rect x="1066" y="475" width="1" height="3" fill="#c0c0c0"/>
<rect x="1082" y="474" width="1" height="2" fill="#c0c0c0"/>
<rect x="1090" y="472" width="1" height="4" fill="#c0c0c0"/>
<rect x="1098" y="468" width="1" height="8" fill="#c0c0c0"/>
<rect x="1106" y="465" width="1" height="11" fill="#c0c0c0"/>
<rect x="1114" y="458" width="1" height="18" fill="#c0c0c0"/>
<rect x="1122" y="452" width="1" height="24" fill="#c0c0c0"/>
<rect x="1130" y="448" width="1" height="28" fill="#c0c0c0"/>
<rect x="1138" y="446" width="1" height="30" fill="#c0c0c0"/>
<rect x="1146" y="443" width="1" height="33" fill="#c0c0c0"/>
<rect x="1154" y="442" width="1" height="34" fill="#c0c0c0"/>
<rect x="1162" y="434" width="1" height="42" fill="#c0c0c0"/>
<rect x="1170" y="426" width="1" height="50" fill="#c0c0c0"/>
<line x1="10" y1="512.33" x2="13" y2="514.73" stroke="#ff0000" stroke-width="1"/>
<line x1="16" y1="517.13" x2="21" y2="520.23" stroke="#ff0000" stroke-width="1"/>
<line x1="24" y1="521.73" x2="29" y2="524.23" stroke="#ff0000" stroke-width="1"/>
<line x1="32" y1="525.73" x2="37" y2="527.59" stroke="#ff0000" stroke-width="1"/>
<line x1="40" y1="528.45" x2="45" y2="529.22" stroke="#ff0000" stroke-width="1"/>
<line x1="48" y1="529.40" x2="53" y2="529.83" stroke="#ff0000" stroke-width="1"/>
<line x1="56" y1="530.13" x2="61" y2="530.52" stroke="#ff0000" stroke-width="1"/>
<line x1="64" y1="530.70" x2="69" y2="530.98" stroke="#ff0000" stroke-width="1"/>
<line x1="72" y1="531.13" x2="77" y2="531.38" stroke="#ff0000" stroke-width="1"/>
<line x1="80" y1="531.53" x2="85" y2="531.63" stroke="#ff0000" stroke-width="1"/>
<line x1="88" y1="531.63" x2="93" y2="531.63" stroke="#ff0000" stroke-width="1"/>
<line x1="96" y1="531.63" x2="101" y2="531.93" stroke="#ff0000" stroke-width="1"/>
<line x1="104" y1="532.23" x2="109" y2="532.73" stroke="#ff0000" stroke-width="1"/>
<line x1="112" y1="533.03" x2="117" y2="533.64" stroke="#ff0000" stroke-width="1"/>
<line x1="120" y1="534.05" x2="125" y2="534.33" stroke="#ff0000" stroke-width="1"/>
<line x1="128" y1="534.33" x2="133" y2="533.62" stroke="#ff0000" stroke-width="1"/>
<line x1="136" y1="532.90" x2="141" y2="531.64" stroke="#ff0000" stroke-width="1"/>
<line x1="144" y1="530.85" x2="149" y2="529.17" stroke="#ff0000" stroke-width="1"/>
<line x1="152" y1="528.00" x2="157" y2="525.65" stroke="#ff0000" stroke-width="1"/>
<line x1="160" y1="524.08" x2="165" y2="521.42" stroke="#ff0000" stroke-width="1"/>
<line x1="168" y1="519.81" x2="173" y2="517.23" stroke="#ff0000" stroke-width="1"/>
<line x1="176" y1="515.73" x2="181" y2="513.23" stroke="#ff0000" stroke-width="1"/>
<line x1="184" y1="511.73" x2="189" y2="508.93" stroke="#ff0000" stroke-width="1"/>
<line x1="192" y1="507.13" x2="197" y2="504.65" stroke="#ff0000" stroke-width="1"/>
<line x1="200" y1="503.38" x2="205" y2="501.74" stroke="#ff0000" stroke-width="1"/>
<line x1="208" y1="500.95" x2="213" y2="500.13" stroke="#ff0000" stroke-width="1"/>
<line x1="216" y1="499.83" x2="221" y2="499.63" stroke="#ff0000" stroke-width="1"/>
<line x1="224" y1="499.63" x2="229" y2="499.93" stroke="#ff0000" stroke-width="1"/>
<line x1="232" y1="500.23" x2="237" y2="501.03" stroke="#ff0000" stroke-width="1"/>
<line x1="240" y1="501.63" x2="245" y2="502.89" stroke="#ff0000" stroke-width="1"/>
<line x1="248" y1="503.75" x2="253" y2="505.53" stroke="#ff0000" stroke-width="1"/>
<line x1="256" y1="506.73" x2="261" y2="508.62" stroke="#ff0000" stroke-width="1"/>
<line x1="264" y1="509.70" x2="269" y2="511.55" stroke="#ff0000" stroke-width="1"/>
<line x1="272" y1="512.68" x2="277" y2="513.80" stroke="#ff0000" stroke-width="1"/>
<line x1="280" y1="514.18" x2="285" y2="514.43" stroke="#ff0000" stroke-width="1"/>
<line x1="288" y1="514.43" x2="293" y2="514.36" stroke="#ff0000" stroke-width="1"/>
<line x1="296" y1="514.28" x2="301" y2="513.52" stroke="#ff0000" stroke-width="1"/>
<line x1="304" y1="512.80" x2="309" y2="511.54" stroke="#ff0000" stroke-width="1"/>
<line x1="312" y1="510.75" x2="317" y2="509.52" stroke="#ff0000" stroke-width="1"/>
<line x1="320" y1="508.80" x2="325" y2="507.24" stroke="#ff0000" stroke-width="1"/>
<line x1="328" y1="506.15" x2="333" y2="504.27" stroke="#ff0000" stroke-width="1"/>
<line x1="336" y1="503.10" x2="341" y2="501.54" stroke="#ff0000" stroke-width="1"/>
<line x1="344" y1="500.75" x2="349" y2="498.73" stroke="#ff0000" stroke-width="1"/>
<line x1="352" y1="497.23" x2="357" y2="494.43" stroke="#ff0000" stroke-width="1"/>
<line x1="360" y1="492.63" x2="365" y2="489.78" stroke="#ff0000" stroke-width="1"/>
<line x1="368" y1="488.13" x2="373" y2="485.08" stroke="#ff0000" stroke-width="1"/>
<line x1="376" y1="483.13" x2="381" y2="480.03" stroke="#ff0000" stroke-width="1"/>
<line x1="384" y1="478.23" x2="389" y2="475.60" stroke="#ff0000" stroke-width="1"/>
<line x1="392" y1="474.18" x2="397" y2="472.52" stroke="#ff0000" stroke-width="1"/>
<line x1="400" y1="471.80" x2="405" y2="470.62" stroke="#ff0000" stroke-width="1"/>
<line x1="408" y1="469.90" x2="413" y2="469.05" stroke="#ff0000" stroke-width="1"/>
<line x1="416" y1="468.68" x2="421" y2="468.80" stroke="#ff0000" stroke-width="1"/>
<line x1="424" y1="469.18" x2="429" y2="470.55" stroke="#ff0000" stroke-width="1"/>
<line x1="432" y1="471.68" x2="437" y2="473.82" stroke="#ff0000" stroke-width="1"/>
<line x1="440" y1="475.20" x2="445" y2="478.12" stroke="#ff0000" stroke-width="1"/>
<line x1="448" y1="480.10" x2="453" y2="483.38" stroke="#ff0000" stroke-width="1"/>
<line x1="456" y1="485.33" x2="461" y2="488.32" stroke="#ff0000" stroke-width="1"/>
<line x1="464" y1="490.00" x2="469" y2="492.85" stroke="#ff0000" stroke-width="1"/>
<line x1="472" y1="494.58" x2="477" y2="497.30" stroke="#ff0000" stroke-width="1"/>
<line x1="480" y1="498.88" x2="485" y2="501.58" stroke="#ff0000" stroke-width="1"/>
<line x1="488" y1="503.23" x2="493" y2="506.02" stroke="#ff0000" stroke-width="1"/>
<line x1="496" y1="507.70" x2="501" y2="510.44" stroke="#ff0000" stroke-width="1"/>
<line x1="504" y1="512.05" x2="509" y2="514.63" stroke="#ff0000" stroke-width="1"/>
<line x1="512" y1="516.13" x2="517" y2="518.52" stroke="#ff0000" stroke-width="1"/>
<line x1="520" y1="519.90" x2="525" y2="522.14" stroke="#ff0000" stroke-width="1"/>
<line x1="528" y1="523.45" x2="533" y2="525.57" stroke="#ff0000" stroke-width="1"/>
<line x1="536" y1="526.80" x2="541" y2="528.68" stroke="#ff0000" stroke-width="1"/>
<line x1="544" y1="529.73" x2="549" y2="531.18" stroke="#ff0000" stroke-width="1"/>
<line x1="552" y1="531.93" x2="557" y2="532.73" stroke="#ff0000" stroke-width="1"/>
<line x1="560" y1="533.03" x2="565" y2="533.12" stroke="#ff0000" stroke-width="1"/>
<line x1="568" y1="533.00" x2="573" y2="532.44" stroke="#ff0000" stroke-width="1"/>
<line x1="576" y1="531.95" x2="581" y2="531.18" stroke="#ff0000" stroke-width="1"/>
<line x1="584" y1="530.73" x2="589" y2="530.09" stroke="#ff0000" stroke-width="1"/>
<line x1="592" y1="529.75" x2="597" y2="529.12" stroke="#ff0000" stroke-width="1"/>
<line x1="600" y1="528.70" x2="605" y2="528.13" stroke="#ff0000" stroke-width="1"/>
<line x1="608" y1="527.83" x2="613" y2="527.63" stroke="#ff0000" stroke-width="1"/>
<line x1="616" y1="527.63" x2="621" y2="527.63" stroke="#ff0000" stroke-width="1"/>
<line x1="624" y1="527.63" x2="629" y2="527.93" stroke="#ff0000" stroke-width="1"/>
<line x1="632" y1="528.23" x2="637" y2="528.84" stroke="#ff0000" stroke-width="1"/>
<line x1="640" y1="529.25" x2="645" y2="529.87" stroke="#ff0000" stroke-width="1"/>
<line x1="648" y1="530.20" x2="653" y2="530.73" stroke="#ff0000" stroke-width="1"/>
<line x1="656" y1="531.03" x2="661" y2="530.93" stroke="#ff0000" stroke-width="1"/>
<line x1="664" y1="530.63" x2="669" y2="530.09" stroke="#ff0000" stroke-width="1"/>
<line x1="672" y1="529.75" x2="677" y2="528.37" stroke="#ff0000" stroke-width="1"/>
<line x1="680" y1="527.20" x2="685" y2="525.15" stroke="#ff0000" stroke-width="1"/>
<line x1="688" y1="523.88" x2="693" y2="521.42" stroke="#ff0000" stroke-width="1"/>
<line x1="696" y1="519.81" x2="701" y2="516.93" stroke="#ff0000" stroke-width="1"/>
<line x1="704" y1="515.13" x2="709" y2="511.53" stroke="#ff0000" stroke-width="1"/>
<line x1="712" y1="509.13" x2="717" y2="505.58" stroke="#ff0000" stroke-width="1"/>
<line x1="720" y1="503.63" x2="725" y2="500.49" stroke="#ff0000" stroke-width="1"/>
<line x1="728" y1="498.65" x2="733" y2="495.78" stroke="#ff0000" stroke-width="1"/>
<line x1="736" y1="494.13" x2="741" y2="491.42" stroke="#ff0000" stroke-width="1"/>
<line x1="744" y1="489.80" x2="749" y2="487.64" stroke="#ff0000" stroke-width="1"/>
<line x1="752" y1="486.55" x2="757" y2="484.63" stroke="#ff0000" stroke-width="1"/>
<line x1="760" y1="483.43" x2="765" y2="481.43" stroke="#ff0000" stroke-width="1"/>
<line x1="768" y1="480.23" x2="773" y2="478.57" stroke="#ff0000" stroke-width="1"/>
<line x1="776" y1="477.70" x2="781" y2="475.85" stroke="#ff0000" stroke-width="1"/>
<line x1="784" y1="474.58" x2="789" y2="472.53" stroke="#ff0000" stroke-width="1"/>
<line x1="792" y1="471.33" x2="797" y2="469.44" stroke="#ff0000" stroke-width="1"/>
<line x1="800" y1="468.36" x2="805" y2="466.32" stroke="#ff0000" stroke-width="1"/>
<line x1="808" y1="465.00" x2="813" y2="463.12" stroke="#ff0000" stroke-width="1"/>
<line x1="816" y1="462.10" x2="821" y2="461.13" stroke="#ff0000" stroke-width="1"/>
<line x1="824" y1="460.83" x2="829" y2="460.63" stroke="#ff0000" stroke-width="1"/>
<line x1="832" y1="460.63" x2="837" y2="461.23" stroke="#ff0000" stroke-width="1"/>
<line x1="840" y1="461.83" x2="845" y2="463.54" stroke="#ff0000" stroke-width="1"/>
<line x1="848" y1="464.85" x2="853" y2="467.42" stroke="#ff0000" stroke-width="1"/>
<line x1="856" y1="469.10" x2="861" y2="472.63" stroke="#ff0000" stroke-width="1"/>
<line x1="864" y1="475.03" x2="869" y2="478.88" stroke="#ff0000" stroke-width="1"/>
<line x1="872" y1="481.13" x2="877" y2="484.92" stroke="#ff0000" stroke-width="1"/>
<line x1="880" y1="487.20" x2="885" y2="491.24" stroke="#ff0000" stroke-width="1"/>
<line x1="888" y1="493.75" x2="893" y2="497.23" stroke="#ff0000" stroke-width="1"/>
<line x1="896" y1="499.03" x2="901" y2="501.77" stroke="#ff0000" stroke-width="1"/>
<line x1="904" y1="503.30" x2="909" y2="505.08" stroke="#ff0000" stroke-width="1"/>
<line x1="912" y1="505.83" x2="917" y2="507.27" stroke="#ff0000" stroke-width="1"/>
<line x1="920" y1="508.20" x2="925" y2="509.13" stroke="#ff0000" stroke-width="1"/>
<line x1="928" y1="509.43" x2="933" y2="509.63" stroke="#ff0000" stroke-width="1"/>
<line x1="936" y1="509.63" x2="941" y2="509.44" stroke="#ff0000" stroke-width="1"/>
<line x1="944" y1="509.25" x2="949" y2="508.38" stroke="#ff0000" stroke-width="1"/>
<line x1="952" y1="507.63" x2="957" y2="506.79" stroke="#ff0000" stroke-width="1"/>
<line x1="960" y1="506.45" x2="965" y2="505.44" stroke="#ff0000" stroke-width="1"/>
<line x1="968" y1="504.65" x2="973" y2="502.89" stroke="#ff0000" stroke-width="1"/>
<line x1="976" y1="501.65" x2="981" y2="500.27" stroke="#ff0000" stroke-width="1"/>
<line x1="984" y1="499.70" x2="989" y2="498.28" stroke="#ff0000" stroke-width="1"/>
<line x1="992" y1="497.23" x2="997" y2="495.74" stroke="#ff0000" stroke-width="1"/>
<line x1="1000" y1="494.95" x2="1005" y2="493.34" stroke="#ff0000" stroke-width="1"/>
<line x1="1008" y1="492.25" x2="1013" y2="491.00" stroke="#ff0000" stroke-width="1"/>
<line x1="1016" y1="490.48" x2="1021" y2="489.53" stroke="#ff0000" stroke-width="1"/>
<line x1="1024" y1="488.93" x2="1029" y2="488.04" stroke="#ff0000" stroke-width="1"/>
<line x1="1032" y1="487.55" x2="1037" y2="486.48" stroke="#ff0000" stroke-width="1"/>
<line x1="1040" y1="485.73" x2="1045" y2="484.89" stroke="#ff0000" stroke-width="1"/>
<line x1="1048" y1="484.55" x2="1053" y2="484.33" stroke="#ff0000" stroke-width="1"/>
<line x1="1056" y1="484.33" x2="1061" y2="483.95" stroke="#ff0000" stroke-width="1"/>
<line x1="1064" y1="483.58" x2="1069" y2="482.95" stroke="#ff0000" stroke-width="1"/>
<line x1="1072" y1="482.58" x2="1077" y2="481.62" stroke="#ff0000" stroke-width="1"/>
<line x1="1080" y1="480.90" x2="1085" y2="479.68" stroke="#ff0000" stroke-width="1"/>
<line x1="1088" y1="478.93" x2="1093" y2="477.72" stroke="#ff0000" stroke-width="1"/>
<line x1="1096" y1="477.00" x2="1101" y2="475.63" stroke="#ff0000" stroke-width="1"/>
<line x1="1104" y1="474.73" x2="1109" y2="473.42" stroke="#ff0000" stroke-width="1"/>
<line x1="1112" y1="472.70" x2="1117" y2="470.88" stroke="#ff0000" stroke-width="1"/>
<line x1="1120" y1="469.53" x2="1125" y2="467.32" stroke="#ff0000" stroke-width="1"/>
<line x1="1128" y1="466.00" x2="1133" y2="463.67" stroke="#ff0000" stroke-width="1"/>
<line x1="1136" y1="462.20" x2="1141" y2="459.77" stroke="#ff0000" stroke-width="1"/>
<line x1="1144" y1="458.30" x2="1149" y2="456.09" stroke="#ff0000" stroke-width="1"/>
<line x1="1152" y1="454.85" x2="1157" y2="452.57" stroke="#ff0000" stroke-width="1"/>
<line x1="1160" y1="451.11" x2="1165" y2="448.67" stroke="#ff0000" stroke-width="1"/>
<line x1="1168" y1="447.20" x2="1170" y2="446.23" stroke="#ff0000" stroke-width="1"/>
</g>
<clipPath id="crsi"><rect x="10" y="549" width="1182" height="120"/></clipPath>
<g clip-path="url(#crsi)">
<line x1="11" y1="585.5" x2="1192" y2="585.5" stroke="#b4b4b4" stroke-width="1" stroke-dasharray="3 3"/>
<line x1="11" y1="633.5" x2="1192" y2="633.5" stroke="#b4b4b4" stroke-width="1" stroke-dasharray="3 3"/>
<polyline points="10,645.03 18,620.23 26,620.23 34,617.53 42,622.03 50,621.13 58,630.93 66,634.43 74,633.13 82,629.03 90,625.43 98,628.53 106,623.53 114,627.23 122,619.33 130,619.33 138,613.43 146,613.43 154,618.43 162,604.33 170,611.13 178,607.43 186,607.43 194,612.93 202,616.83 210,627.03 218,627.03 226,623.33 234,625.43 242,628.33 250,625.43 258,619.83 266,619.53 274,616.63 282,616.63 290,619.53 298,610.23 306,613.43 314,612.23 322,613.43 330,611.43 338,609.43 346,616.33 354,591.43 362,593.63 370,593.63 378,596.53 386,598.13 394,621.43 402,618.23 410,618.23 418,618.23 426,620.33 434,621.43 442,624.63 450,620.33 458,626.23 466,626.23 474,627.33 482,630.23 490,633.13 498,637.53 506,634.33 514,631.53 522,630.63 530,629.13 538,634.33 546,629.43 554,630.63 562,624.63 570,624.63 578,614.73 586,619.83 594,633.03 602,629.43 610,629.43 618,631.53 626,635.13 634,635.13 642,624.63 650,621.13 658,615.83 666,616.63 674,612.23 682,604.23 690,604.23 698,601.33 706,611.43 714,610.23 722,607.33 730,605.33 738,608.23 746,607.33 754,605.03 762,599.73 770,595.43 778,597.33 786,591.43 794,592.53 802,596.23 810,597.63 818,602.93 826,621.73 834,629.43 842,632.73 850,624.63 858,629.43 866,629.43 874,622.23 882,625.43 890,623.53 898,619.83 906,616.63 914,614.53 922,627.33 930,619.83 938,612.63 946,613.43 954,611.43 962,612.63 970,606.83 978,605.63 986,609.73 994,611.13 1002,615.23 1010,614.33 1018,618.03 1026,609.73 1034,606.03 1042,604.13 1050,608.73 1058,613.93 1066,608.73 1074,602.63 1082,605.03 1090,603.23 1098,600.13 1106,598.63 1114,590.33 1122,589.33 1130,589.33 1138,592.13 1146,591.23 1154,590.33 1162,580.53 1170,577.33" fill="none" stroke="#1e90ff" stroke-width="1"/>
</g>
<rect x="1193" y="17" width="2" height="1" fill="#000"/>
<rect x="1193" y="50" width="2" height="1" fill="#000"/>
<rect x="1193" y="83" width="2" height="1" fill="#000"/>
<rect x="1193" y="116" width="2" height="1" fill="#000"/>
<rect x="1193" y="149" width="2" height="1" fill="#000"/>
<rect x="1193" y="182" width="2" height="1" fill="#000"/>
<rect x="1193" y="215" width="2" height="1" fill="#000"/>
<rect x="1193" y="248" width="2" height="1" fill="#000"/>
<rect x="1193" y="281" width="2" height="1" fill="#000"/>
<rect x="1193" y="314" width="2" height="1" fill="#000"/>
<rect x="1193" y="347" width="2" height="1" fill="#000"/>
<rect x="1193" y="380" width="2" height="1" fill="#000"/>
<rect x="1193" y="413" width="2" height="1" fill="#000"/>
<rect x="1193" y="475" width="1" height="1" fill="#000"/>
<rect x="1193" y="420" width="1" height="1" fill="#000"/>
<rect x="1193" y="545" width="1" height="1" fill="#000"/>
<rect x="1193" y="550" width="1" height="1" fill="#000"/>
<rect x="1193" y="668" width="1" height="1" fill="#000"/>
<rect x="10" y="670" width="1" height="3" fill="#000"/>
<rect x="74" y="670" width="1" height="3" fill="#000"/>
<rect x="138" y="670" width="1" height="3" fill="#000"/>
<rect x="202" y="670" width="1" height="3" fill="#000"/>
<rect x="266" y="670" width="1" height="3" fill="#000"/>
<rect x="330" y="670" width="1" height="3" fill="#000"/>
<rect x="394" y="670" width="1" height="3" fill="#000"/>
<rect x="458" y="670" width="1" height="3" fill="#000"/>
<rect x="522" y="670" width="1" height="3" fill="#000"/>
<rect x="586" y="670" width="1" height="3" fill="#000"/>
<rect x="650" y="670" width="1" height="3" fill="#000"/>
<rect x="714" y="670" width="1" height="3" fill="#000"/>
<rect x="778" y="670" width="1" height="3" fill="#000"/>
<rect x="842" y="670" width="1" height="3" fill="#000"/>
<rect x="906" y="670" width="1" height="3" fill="#000"/>
<rect x="970" y="670" width="1" height="3" fill="#000"/>
<rect x="1034" y="670" width="1" height="3" fill="#000"/>
<rect x="1098" y="670" width="1" height="3" fill="#000"/>
<rect x="1162" y="670" width="1" height="3" fill="#000"/>
<g font-family="Liberation Sans, Arial, sans-serif" text-rendering="geometricPrecision">
<text x="1197.7" y="20.6" font-size="9.8" fill="#000" stroke="#000" stroke-width="0.2" textLength="37.5" lengthAdjust="spacingAndGlyphs">4316.150</text>
<text x="1197.7" y="53.6" font-size="9.8" fill="#000" stroke="#000" stroke-width="0.2" textLength="37.5" lengthAdjust="spacingAndGlyphs">4271.950</text>
<text x="1197.7" y="86.6" font-size="9.8" fill="#000" stroke="#000" stroke-width="0.2" textLength="37.5" lengthAdjust="spacingAndGlyphs">4229.050</text>
<text x="1197.7" y="119.6" font-size="9.8" fill="#000" stroke="#000" stroke-width="0.2" textLength="37.5" lengthAdjust="spacingAndGlyphs">4186.150</text>
<text x="1197.7" y="152.6" font-size="9.8" fill="#000" stroke="#000" stroke-width="0.2" textLength="37.5" lengthAdjust="spacingAndGlyphs">4143.250</text>
<text x="1197.7" y="185.6" font-size="9.8" fill="#000" stroke="#000" stroke-width="0.2" textLength="37.5" lengthAdjust="spacingAndGlyphs">4100.350</text>
<text x="1197.7" y="218.6" font-size="9.8" fill="#000" stroke="#000" stroke-width="0.2" textLength="37.5" lengthAdjust="spacingAndGlyphs">4057.450</text>
<text x="1197.7" y="251.6" font-size="9.8" fill="#000" stroke="#000" stroke-width="0.2" textLength="37.5" lengthAdjust="spacingAndGlyphs">4013.250</text>
<text x="1197.7" y="284.6" font-size="9.8" fill="#000" stroke="#000" stroke-width="0.2" textLength="37.5" lengthAdjust="spacingAndGlyphs">3970.350</text>
<text x="1197.7" y="317.6" font-size="9.8" fill="#000" stroke="#000" stroke-width="0.2" textLength="37.5" lengthAdjust="spacingAndGlyphs">3927.450</text>
<text x="1197.7" y="350.6" font-size="9.8" fill="#000" stroke="#000" stroke-width="0.2" textLength="37.5" lengthAdjust="spacingAndGlyphs">3884.550</text>
<text x="1197.7" y="383.6" font-size="9.8" fill="#000" stroke="#000" stroke-width="0.2" textLength="37.5" lengthAdjust="spacingAndGlyphs">3841.650</text>
<text x="1197.7" y="416.6" font-size="9.8" fill="#000" stroke="#000" stroke-width="0.2" textLength="37.5" lengthAdjust="spacingAndGlyphs">3798.750</text>
<rect x="1195" y="23" width="44" height="11" fill="#ff0000"/>
<text x="1197.7" y="31.6" font-size="9.8" fill="#fff" stroke="#fff" stroke-width="0.2" textLength="37.5" lengthAdjust="spacingAndGlyphs">4300.000</text>
<rect x="1195" y="99" width="44" height="11" fill="#ff0000"/>
<text x="1197.7" y="107.6" font-size="9.8" fill="#fff" stroke="#fff" stroke-width="0.2" textLength="37.5" lengthAdjust="spacingAndGlyphs">4200.000</text>
<rect x="1195" y="134" width="44" height="11" fill="#000000"/>
<text x="1197.7" y="142.6" font-size="9.8" fill="#fff" stroke="#fff" stroke-width="0.2" textLength="37.5" lengthAdjust="spacingAndGlyphs">4156.050</text>
<rect x="1195" y="207" width="44" height="11" fill="#00d700"/>
<text x="1197.7" y="215.6" font-size="9.8" fill="#fff" stroke="#fff" stroke-width="0.2" textLength="37.5" lengthAdjust="spacingAndGlyphs">4060.000</text>
<rect x="1195" y="329" width="44" height="11" fill="#2d4be6"/>
<text x="1197.7" y="337.6" font-size="9.8" fill="#fff" stroke="#fff" stroke-width="0.2" textLength="37.5" lengthAdjust="spacingAndGlyphs">3900.000</text>
<text x="13.3" y="430.6" font-size="9.8" fill="#000" stroke="#000" stroke-width="0.2" textLength="139.6" lengthAdjust="spacingAndGlyphs">MACD(12,26,9) 41.7335 24.9719</text>
<text x="1195.7" y="428.6" font-size="9.8" fill="#000" stroke="#000" stroke-width="0.2" textLength="33.2" lengthAdjust="spacingAndGlyphs">46.5574</text>
<text x="1195.7" y="478.6" font-size="9.8" fill="#000" stroke="#000" stroke-width="0.2" textLength="17.5" lengthAdjust="spacingAndGlyphs">0.00</text>
<text x="1195.7" y="542.6" font-size="9.8" fill="#000" stroke="#000" stroke-width="0.2" textLength="30.7" lengthAdjust="spacingAndGlyphs">-59.568</text>
<text x="13.1" y="560.6" font-size="9.8" fill="#000" stroke="#000" stroke-width="0.2" textLength="68.2" lengthAdjust="spacingAndGlyphs">RSI(14) 77.1820</text>
<text x="1196.2" y="558.6" font-size="9.8" fill="#000" stroke="#000" stroke-width="0.2" textLength="13.8" lengthAdjust="spacingAndGlyphs">100</text>
<text x="1194.7" y="588.6" font-size="9.8" fill="#000" stroke="#000" stroke-width="0.2" textLength="9.4" lengthAdjust="spacingAndGlyphs">70</text>
<text x="1194.7" y="636.6" font-size="9.8" fill="#000" stroke="#000" stroke-width="0.2" textLength="9.6" lengthAdjust="spacingAndGlyphs">30</text>
<text x="1195.6" y="665.6" font-size="9.8" fill="#000" stroke="#000" stroke-width="0.2" textLength="4.6" lengthAdjust="spacingAndGlyphs">0</text>
<text x="8.5" y="681.6" font-size="9.8" fill="#000" stroke="#000" stroke-width="0.2" textLength="51.5" lengthAdjust="spacingAndGlyphs">25 Apr 2022</text>
<text x="72.5" y="681.6" font-size="9.8" fill="#000" stroke="#000" stroke-width="0.2" textLength="54.2" lengthAdjust="spacingAndGlyphs">26 Apr 20:00</text>
<text x="136.5" y="681.6" font-size="9.8" fill="#000" stroke="#000" stroke-width="0.2" textLength="54.2" lengthAdjust="spacingAndGlyphs">28 Apr 04:00</text>
<text x="200.5" y="681.6" font-size="9.8" fill="#000" stroke="#000" stroke-width="0.2" textLength="54.2" lengthAdjust="spacingAndGlyphs">29 Apr 12:00</text>
<text x="264.5" y="681.6" font-size="9.8" fill="#000" stroke="#000" stroke-width="0.2" textLength="53.5" lengthAdjust="spacingAndGlyphs">2 May 20:00</text>
<text x="328.5" y="681.6" font-size="9.8" fill="#000" stroke="#000" stroke-width="0.2" textLength="53.5" lengthAdjust="spacingAndGlyphs">4 May 04:00</text>
<text x="392.5" y="681.6" font-size="9.8" fill="#000" stroke="#000" stroke-width="0.2" textLength="53.5" lengthAdjust="spacingAndGlyphs">5 May 12:00</text>
<text x="456.5" y="681.6" font-size="9.8" fill="#000" stroke="#000" stroke-width="0.2" textLength="53.5" lengthAdjust="spacingAndGlyphs">8 May 23:00</text>
<text x="520.5" y="681.6" font-size="9.8" fill="#000" stroke="#000" stroke-width="0.2" textLength="57.9" lengthAdjust="spacingAndGlyphs">10 May 04:00</text>
<text x="584.5" y="681.6" font-size="9.8" fill="#000" stroke="#000" stroke-width="0.2" textLength="57.2" lengthAdjust="spacingAndGlyphs">11 May 12:00</text>
<text x="648.5" y="681.6" font-size="9.8" fill="#000" stroke="#000" stroke-width="0.2" textLength="57.9" lengthAdjust="spacingAndGlyphs">12 May 20:00</text>
<text x="712.5" y="681.6" font-size="9.8" fill="#000" stroke="#000" stroke-width="0.2" textLength="57.9" lengthAdjust="spacingAndGlyphs">16 May 04:00</text>
<text x="776.5" y="681.6" font-size="9.8" fill="#000" stroke="#000" stroke-width="0.2" textLength="57.9" lengthAdjust="spacingAndGlyphs">17 May 12:00</text>
<text x="840.5" y="681.6" font-size="9.8" fill="#000" stroke="#000" stroke-width="0.2" textLength="57.9" lengthAdjust="spacingAndGlyphs">18 May 20:00</text>
<text x="904.5" y="681.6" font-size="9.8" fill="#000" stroke="#000" stroke-width="0.2" textLength="57.9" lengthAdjust="spacingAndGlyphs">20 May 04:00</text>
<text x="968.5" y="681.6" font-size="9.8" fill="#000" stroke="#000" stroke-width="0.2" textLength="57.9" lengthAdjust="spacingAndGlyphs">23 May 12:00</text>
<text x="1032.5" y="681.6" font-size="9.8" fill="#000" stroke="#000" stroke-width="0.2" textLength="57.9" lengthAdjust="spacingAndGlyphs">24 May 20:00</text>
<text x="1096.5" y="681.6" font-size="9.8" fill="#000" stroke="#000" stroke-width="0.2" textLength="57.9" lengthAdjust="spacingAndGlyphs">26 May 04:00</text>
<text x="1160.5" y="681.6" font-size="9.8" fill="#000" stroke="#000" stroke-width="0.2" textLength="57.9" lengthAdjust="spacingAndGlyphs">27 May 12:00</text>
</g></svg>
</body></html>
